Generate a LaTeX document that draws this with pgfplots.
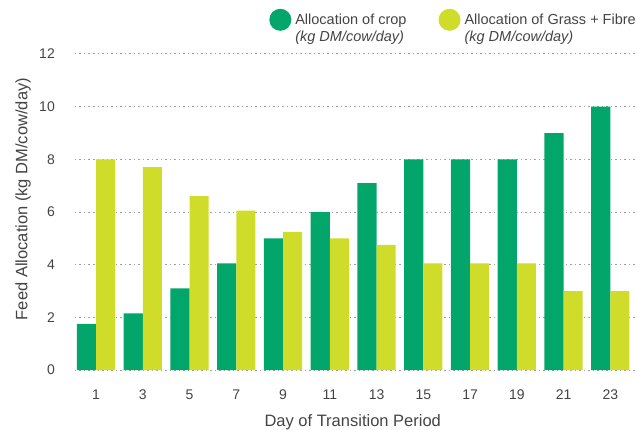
\documentclass[border=0pt]{standalone}
\usepackage{pgfplots}
\pgfplotsset{compat=1.18}
\usepackage{fontspec}
\setmainfont{Liberation Sans}
\definecolor{cropgreen}{RGB}{2,166,106}
\definecolor{grasslime}{RGB}{207,220,41}
\definecolor{txt}{RGB}{68,68,68}
\definecolor{gridc}{RGB}{160,160,160}

\pgfplotstableread{
day crop grass
1   1.75 8.0
3   2.15 7.7
5   3.1  6.6
7   4.05 6.05
9   5.0  5.25
11  6.0  5.0
13  7.1  4.75
15  8.0  4.05
17  8.0  4.05
19  8.0  4.05
21  9.0  3.0
23  10.0 3.0
}\feeddata

\begin{document}
\begin{tikzpicture}[font=\fontsize{14}{17}\selectfont, text=txt]
\begin{axis}[
  width=561pt, height=316pt, scale only axis,
  ybar=0pt, bar width=0.82,
  xmin=0.1, xmax=24.1, ymin=0, ymax=12,
  xtick={1,3,...,23}, ytick={0,2,...,12},
  /pgf/number format/assume math mode=true,
  every tick label/.append style={font=\fontsize{14}{17}\selectfont},
  axis line style={draw=none}, major tick length=0pt,
  ymajorgrids, grid style={gridc, line width=1pt, dash pattern=on 1.5pt off 3pt},
  yticklabel style={anchor=east, inner sep=0pt, xshift=-20pt},
  xticklabel style={anchor=base, inner sep=0pt, yshift=-29pt},
  xlabel={Day of Transition Period},
  ylabel={Feed Allocation (kg DM/cow/day)},
  label style={font=\fontsize{16.5}{19}\selectfont},
  xlabel style={at={(axis description cs:0.495,0)}, anchor=base, inner sep=0pt, yshift=-56pt},
  ylabel style={at={(axis description cs:-0.0927,0.541)}, anchor=center, inner sep=0pt},
  legend columns=2,
  legend cell align=left,
  legend style={at={(1,1)}, anchor=south east, yshift=11pt, draw=none, fill=none,
    inner sep=0pt,
    nodes={font=\fontsize{14.5}{17}\selectfont, text=txt, inner sep=0pt},
    cells={align=left},
    /tikz/every odd column/.append style={column sep=4pt},
    /tikz/every even column/.append style={column sep=32pt}},
  legend image code/.code={\fill[#1] (11pt,8.5pt) circle (11pt);},
]
\addplot[fill=cropgreen, draw=none] table[x=day, y=crop] {\feeddata};
\addlegendentry{Allocation of crop\\\textit{(kg DM/cow/day)}}
\addplot[fill=grasslime, draw=none] table[x=day, y=grass] {\feeddata};
\addlegendentry{Allocation of Grass + Fibre\\\textit{(kg DM/cow/day)}}
\end{axis}
\pgfresetboundingbox
\path ([xshift=-75pt,yshift=-59pt]current axis.south west) rectangle ([yshift=54pt]current axis.north east);
\end{tikzpicture}
\end{document}
